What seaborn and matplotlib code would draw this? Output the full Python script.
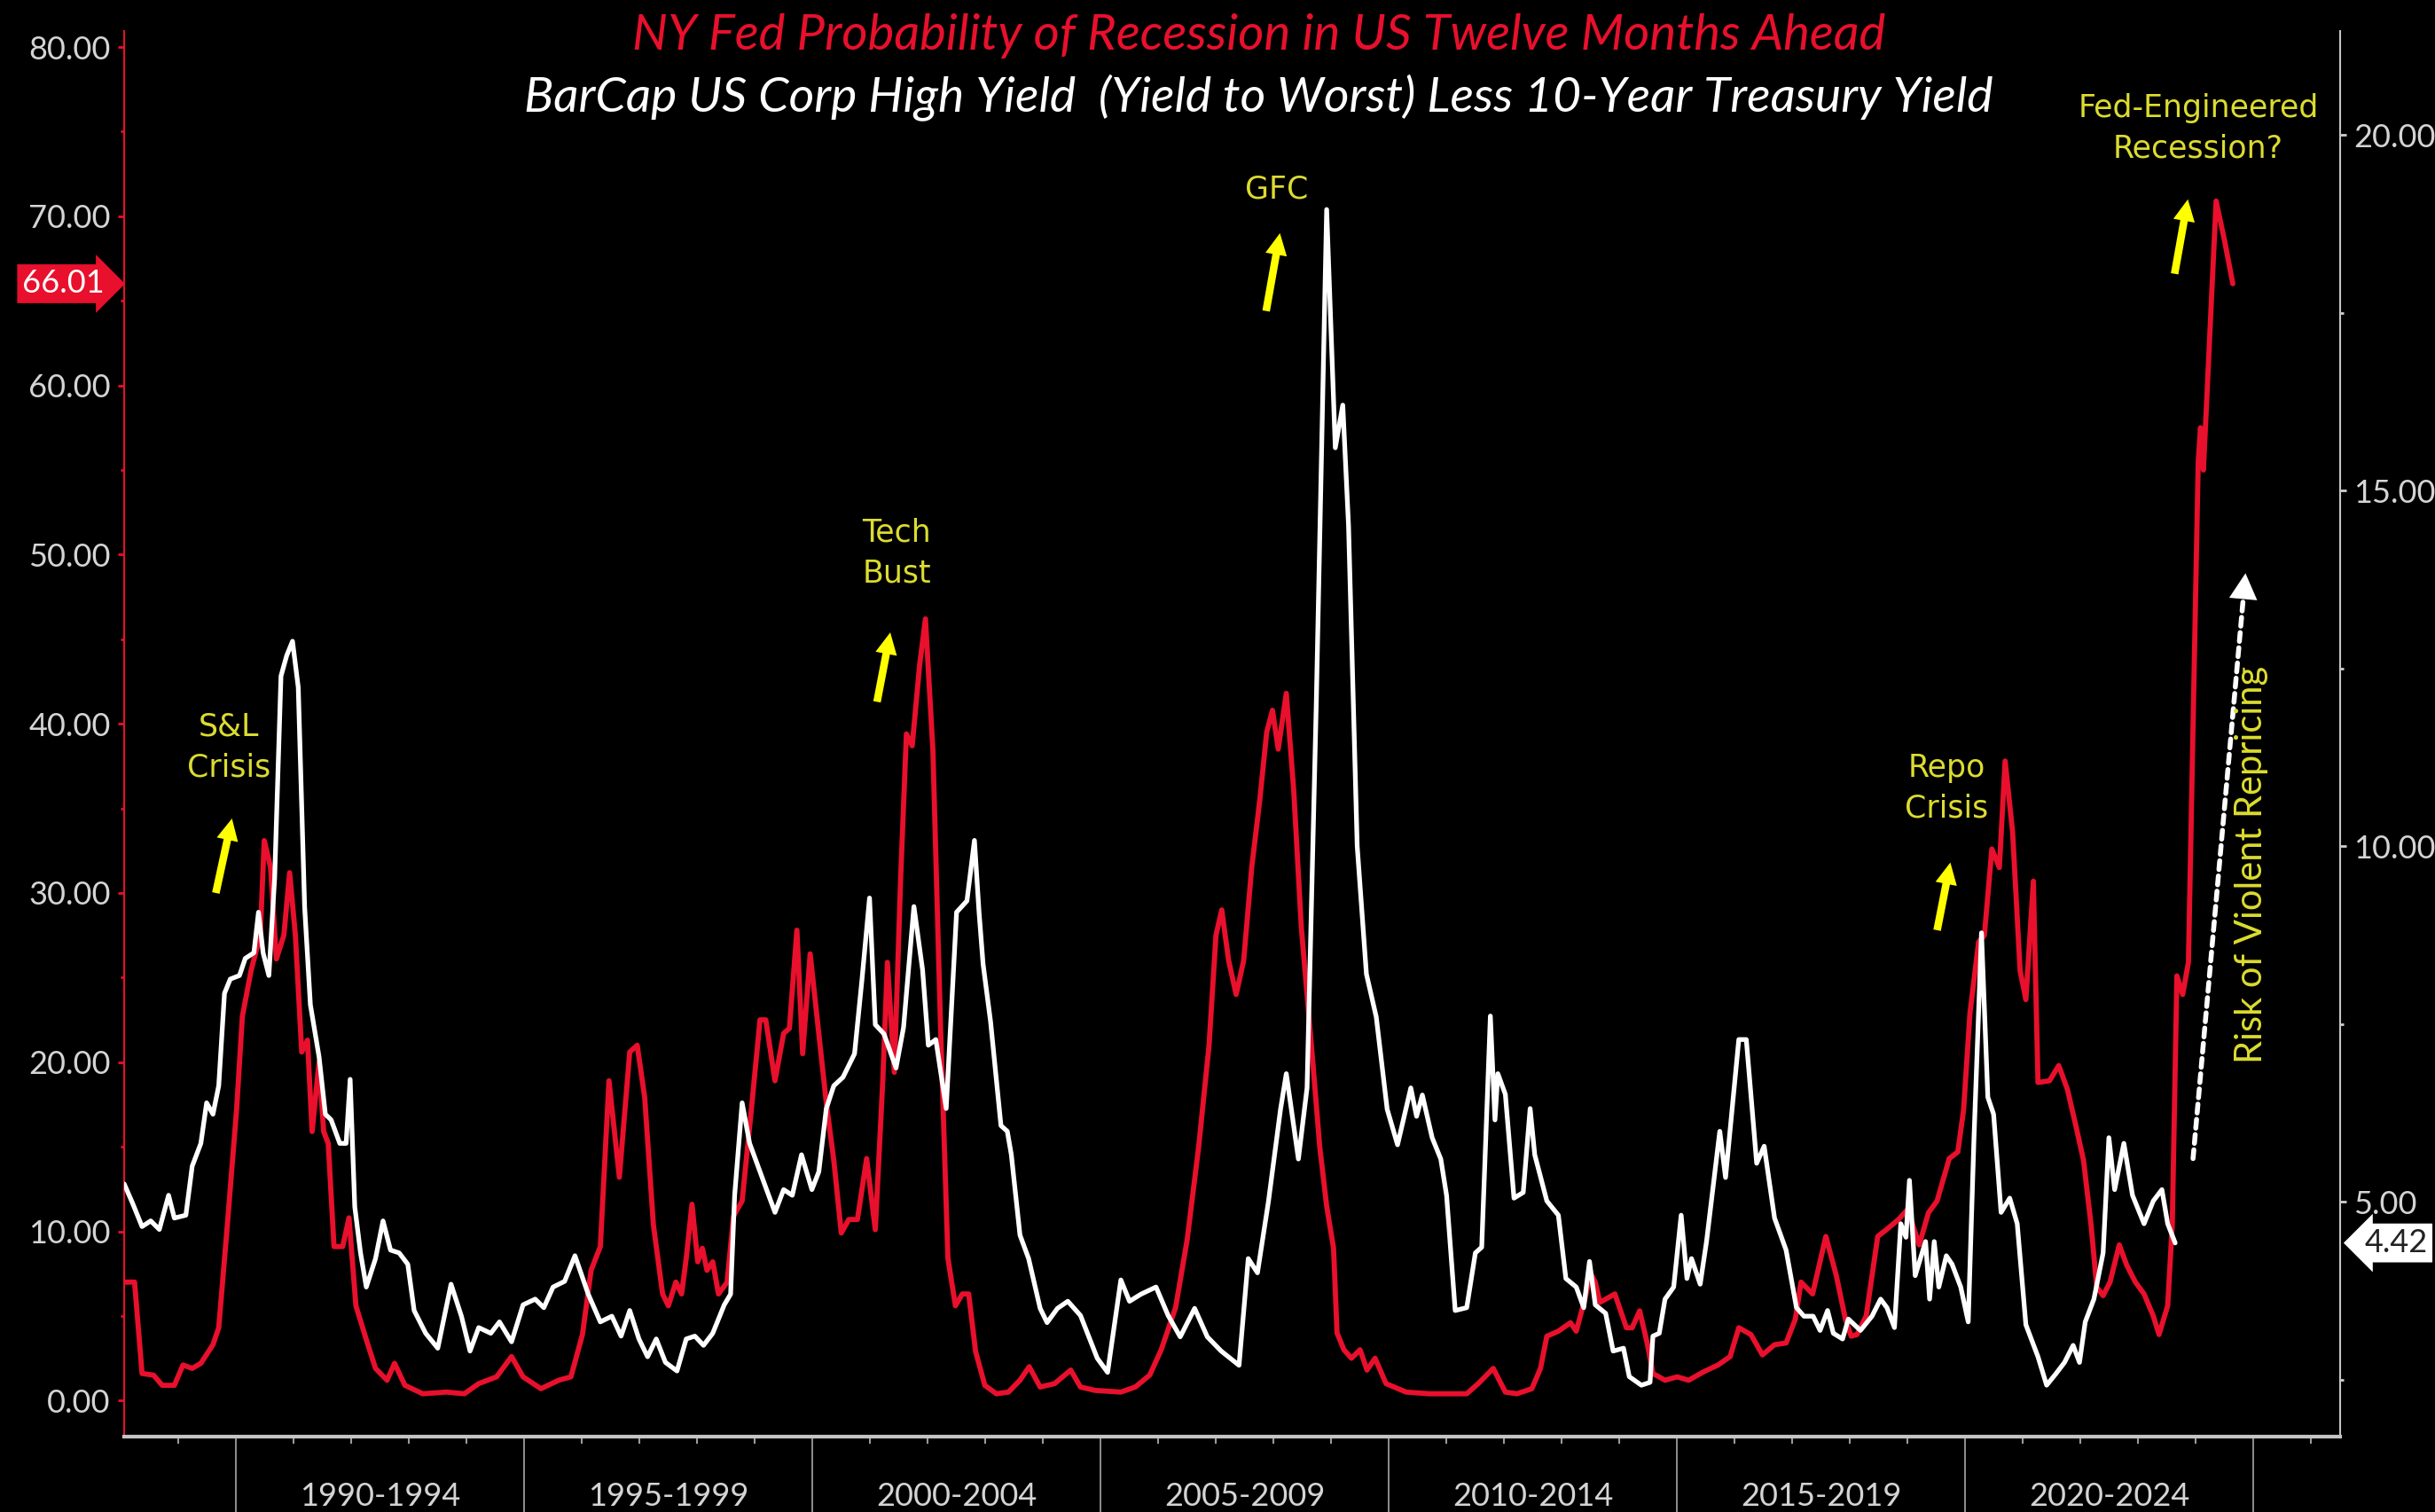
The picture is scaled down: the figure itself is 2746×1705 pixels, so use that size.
"""NY Fed recession probability vs. HY-minus-10Y spread, dark Bloomberg-style chart."""

import matplotlib

matplotlib.use("Agg")
import matplotlib.pyplot as plt  # noqa: E402
import matplotlib.transforms as mtransforms  # noqa: E402
import seaborn as sns  # noqa: E402
from matplotlib.ticker import FuncFormatter, MultipleLocator  # noqa: E402

# NY Fed probability of recession 12 months ahead (%), left axis
red_years = [
    1988.06, 1988.24, 1988.37, 1988.57, 1988.72, 1988.93, 1989.08, 1989.24, 1989.39, 1989.60,
    1989.70, 1989.85, 1990.01, 1990.11, 1990.26, 1990.42, 1990.49, 1990.60, 1990.70, 1990.83,
    1990.93, 1991.03, 1991.14, 1991.24, 1991.32, 1991.44, 1991.52, 1991.60, 1991.70, 1991.85,
    1991.96, 1992.08, 1992.26, 1992.42, 1992.62, 1992.75, 1992.93, 1993.24, 1993.65, 1993.96,
    1994.21, 1994.52, 1994.78, 1994.98, 1995.29, 1995.60, 1995.81, 1996.01, 1996.16, 1996.32,
    1996.47, 1996.65, 1996.83, 1996.96, 1997.09, 1997.24, 1997.40, 1997.50, 1997.63, 1997.73,
    1997.81, 1997.91, 1998.01, 1998.09, 1998.17, 1998.27, 1998.37, 1998.52, 1998.63, 1998.78,
    1998.94, 1999.09, 1999.19, 1999.35, 1999.50, 1999.60, 1999.73, 1999.83, 1999.96, 2000.11,
    2000.24, 2000.37, 2000.50, 2000.63, 2000.78, 2000.94, 2001.09, 2001.22, 2001.30, 2001.42,
    2001.53, 2001.63, 2001.73, 2001.86, 2001.96, 2002.09, 2002.22, 2002.35, 2002.48, 2002.60,
    2002.71, 2002.83, 2002.99, 2003.19, 2003.40, 2003.60, 2003.76, 2003.95, 2004.20, 2004.48,
    2004.65, 2004.90, 2005.35, 2005.60, 2005.85, 2006.05, 2006.30, 2006.50, 2006.70, 2006.88,
    2007.00, 2007.10, 2007.22, 2007.35, 2007.48, 2007.62, 2007.76, 2007.88, 2007.98, 2008.08,
    2008.22, 2008.35, 2008.48, 2008.58, 2008.68, 2008.80, 2008.92, 2009.04, 2009.10, 2009.22,
    2009.35, 2009.50, 2009.62, 2009.76, 2009.95, 2010.30, 2010.70, 2011.00, 2011.35, 2011.55,
    2011.81, 2012.02, 2012.22, 2012.48, 2012.63, 2012.74, 2012.94, 2013.15, 2013.25, 2013.40,
    2013.50, 2013.58, 2013.66, 2013.92, 2014.12, 2014.22, 2014.35, 2014.48, 2014.58, 2014.79,
    2015.00, 2015.20, 2015.46, 2015.71, 2015.92, 2016.07, 2016.28, 2016.48, 2016.69, 2016.89,
    2017.05, 2017.15, 2017.35, 2017.58, 2017.76, 2017.92, 2018.02, 2018.12, 2018.28, 2018.48,
    2018.63, 2018.84, 2019.00, 2019.20, 2019.36, 2019.51, 2019.72, 2019.87, 2019.97, 2020.08,
    2020.23, 2020.33, 2020.46, 2020.59, 2020.69, 2020.82, 2020.95, 2021.05, 2021.18, 2021.26,
    2021.46, 2021.62, 2021.77, 2021.92, 2022.05, 2022.18, 2022.28, 2022.39, 2022.51, 2022.67,
    2022.80, 2022.95, 2023.10, 2023.26, 2023.36, 2023.51, 2023.59, 2023.67, 2023.77, 2023.87,
    2024.04, 2024.08, 2024.13, 2024.35, 2024.50, 2024.64,
]
red_prob = [
    7.0, 7.0, 1.6, 1.5, 0.9, 0.9, 2.1, 1.9, 2.2, 3.3,
    4.3, 10.4, 17.2, 22.7, 25.4, 27.5, 33.1, 31.5, 26.1, 27.5,
    31.2, 27.5, 20.6, 21.3, 15.9, 20.0, 15.9, 15.2, 9.1, 9.1,
    10.8, 5.6, 3.6, 1.9, 1.2, 2.2, 0.9, 0.4, 0.5, 0.4,
    1.0, 1.4, 2.6, 1.4, 0.7, 1.2, 1.4, 3.9, 7.7, 9.1,
    18.9, 13.2, 20.6, 21.0, 17.9, 10.4, 6.3, 5.6, 7.0, 6.3,
    8.4, 11.6, 8.2, 9.0, 7.7, 8.2, 6.3, 7.0, 10.9, 11.8,
    17.2, 22.5, 22.5, 18.9, 21.7, 22.0, 27.8, 20.5, 26.4, 21.7,
    17.6, 14.2, 9.9, 10.7, 10.7, 14.3, 10.1, 18.9, 25.9, 19.4,
    30.9, 39.4, 38.7, 43.5, 46.2, 38.4, 22.3, 8.4, 5.6, 6.3,
    6.3, 2.9, 0.9, 0.4, 0.5, 1.2, 2.0, 0.8, 1.0, 1.8,
    0.8, 0.6, 0.5, 0.8, 1.5, 3.0, 5.5, 9.5, 15.0, 21.0,
    27.5, 29.0, 26.0, 24.0, 26.0, 31.5, 35.5, 39.5, 40.8, 38.5,
    41.8, 36.0, 28.0, 24.0, 20.0, 15.0, 11.5, 9.0, 4.0, 3.0,
    2.5, 3.0, 1.8, 2.5, 1.0, 0.5, 0.4, 0.4, 0.4, 1.0,
    1.9, 0.5, 0.4, 0.7, 1.9, 3.8, 4.1, 4.6, 4.1, 6.0,
    7.5, 7.0, 5.8, 6.3, 4.3, 4.3, 5.3, 3.4, 1.6, 1.2,
    1.4, 1.2, 1.7, 2.1, 2.6, 4.3, 3.9, 2.7, 3.3, 3.4,
    4.8, 7.0, 6.3, 9.7, 7.4, 4.8, 3.8, 3.9, 5.0, 9.7,
    10.1, 10.7, 11.3, 9.2, 11.1, 11.8, 14.3, 14.7, 17.2, 22.9,
    27.1, 27.5, 32.6, 31.5, 37.8, 33.6, 25.4, 23.7, 30.7, 18.8,
    18.9, 19.8, 18.4, 16.2, 14.2, 10.4, 6.7, 6.2, 7.0, 9.2,
    8.0, 7.0, 6.3, 5.0, 3.9, 5.6, 10.4, 25.1, 24.0, 25.9,
    55.5, 57.5, 55.0, 70.9, 68.5, 66.01,
]

# BarCap US HY yield-to-worst less 10y Treasury (%), right axis
white_years = [
    1988.06, 1988.21, 1988.37, 1988.52, 1988.67, 1988.83, 1988.93, 1989.13, 1989.24, 1989.39,
    1989.49, 1989.60, 1989.70, 1989.80, 1989.90, 1990.06, 1990.16, 1990.31, 1990.39, 1990.47,
    1990.57, 1990.67, 1990.78, 1990.88, 1990.98, 1991.08, 1991.19, 1991.29, 1991.44, 1991.55,
    1991.65, 1991.80, 1991.91, 1991.98, 1992.06, 1992.16, 1992.26, 1992.42, 1992.55, 1992.68,
    1992.83, 1992.98, 1993.09, 1993.29, 1993.50, 1993.73, 1993.91, 1994.06, 1994.21, 1994.42,
    1994.57, 1994.78, 1994.98, 1995.19, 1995.34, 1995.50, 1995.70, 1995.88, 1996.11, 1996.32,
    1996.52, 1996.68, 1996.83, 1996.99, 1997.14, 1997.29, 1997.45, 1997.65, 1997.81, 1997.96,
    1998.11, 1998.27, 1998.47, 1998.58, 1998.65, 1998.78, 1998.91, 1999.09, 1999.24, 1999.35,
    1999.50, 1999.65, 1999.81, 1999.99, 2000.11, 2000.24, 2000.37, 2000.53, 2000.73, 2000.86,
    2000.99, 2001.09, 2001.24, 2001.45, 2001.58, 2001.76, 2001.91, 2002.01, 2002.14, 2002.32,
    2002.50, 2002.68, 2002.81, 2002.89, 2002.96, 2003.09, 2003.27, 2003.38, 2003.45, 2003.60,
    2003.75, 2003.95, 2004.07, 2004.25, 2004.43, 2004.65, 2004.94, 2005.12, 2005.35, 2005.50,
    2005.70, 2005.96, 2006.17, 2006.38, 2006.63, 2006.85, 2007.09, 2007.40, 2007.56, 2007.72,
    2007.91, 2008.12, 2008.22, 2008.43, 2008.58, 2008.74, 2008.92, 2009.07, 2009.20, 2009.30,
    2009.45, 2009.61, 2009.78, 2009.97, 2010.15, 2010.38, 2010.48, 2010.58, 2010.75, 2010.90,
    2011.00, 2011.15, 2011.35, 2011.50, 2011.61, 2011.76, 2011.84, 2011.89, 2012.02, 2012.17,
    2012.33, 2012.45, 2012.53, 2012.74, 2012.94, 2013.07, 2013.25, 2013.38, 2013.48, 2013.58,
    2013.76, 2013.89, 2014.07, 2014.17, 2014.38, 2014.53, 2014.58, 2014.69, 2014.79, 2014.94,
    2015.07, 2015.17, 2015.25, 2015.40, 2015.51, 2015.74, 2015.84, 2016.07, 2016.20, 2016.38,
    2016.51, 2016.69, 2016.89, 2017.07, 2017.20, 2017.36, 2017.48, 2017.61, 2017.71, 2017.87,
    2017.97, 2018.18, 2018.38, 2018.53, 2018.64, 2018.77, 2018.88, 2018.97, 2019.03, 2019.13,
    2019.31, 2019.38, 2019.46, 2019.54, 2019.67, 2019.77, 2019.92, 2020.05, 2020.15, 2020.28,
    2020.39, 2020.49, 2020.62, 2020.77, 2020.90, 2021.05, 2021.26, 2021.41, 2021.57, 2021.72,
    2021.87, 2021.98, 2022.08, 2022.23, 2022.39, 2022.49, 2022.59, 2022.75, 2022.90, 2023.10,
    2023.26, 2023.41, 2023.51, 2023.64,
]
white_spread = [
    5.25, 4.97, 4.65, 4.73, 4.61, 5.09, 4.77, 4.81, 5.50, 5.82,
    6.39, 6.23, 6.63, 7.93, 8.13, 8.18, 8.42, 8.50, 9.07, 8.50,
    8.18, 9.55, 12.39, 12.68, 12.88, 12.23, 9.15, 7.77, 7.04, 6.23,
    6.15, 5.82, 5.82, 6.72, 4.93, 4.28, 3.80, 4.20, 4.73, 4.32,
    4.28, 4.12, 3.47, 3.15, 2.94, 3.84, 3.39, 2.90, 3.23, 3.15,
    3.31, 3.03, 3.55, 3.63, 3.51, 3.80, 3.88, 4.24, 3.70, 3.31,
    3.39, 3.11, 3.47, 3.07, 2.82, 3.07, 2.74, 2.62, 3.07, 3.11,
    2.98, 3.15, 3.55, 3.70, 5.09, 6.39, 5.82, 5.42, 5.09, 4.85,
    5.17, 5.09, 5.66, 5.17, 5.42, 6.31, 6.63, 6.75, 7.08, 8.13,
    9.27, 7.49, 7.36, 6.88, 7.45, 9.15, 8.26, 7.20, 7.28, 6.31,
    9.07, 9.23, 10.08, 9.07, 8.34, 7.53, 6.07, 5.99, 5.66, 4.53,
    4.20, 3.50, 3.30, 3.50, 3.60, 3.40, 2.80, 2.60, 3.90, 3.60,
    3.70, 3.80, 3.40, 3.10, 3.50, 3.10, 2.90, 2.70, 4.20, 4.00,
    5.00, 6.30, 6.80, 5.60, 6.60, 12.00, 18.95, 15.60, 16.20, 14.50,
    10.00, 8.20, 7.60, 6.30, 5.80, 6.60, 6.20, 6.50, 5.90, 5.60,
    5.09, 3.47, 3.51, 4.28, 4.36, 7.61, 6.15, 6.80, 6.51, 5.05,
    5.13, 6.31, 5.66, 5.01, 4.81, 3.92, 3.80, 3.51, 4.16, 3.55,
    3.43, 2.90, 2.94, 2.54, 2.42, 2.46, 3.11, 3.15, 3.63, 3.80,
    4.81, 3.92, 4.20, 3.84, 4.44, 5.99, 5.34, 7.28, 7.28, 5.54,
    5.78, 4.77, 4.32, 3.51, 3.39, 3.39, 3.19, 3.47, 3.15, 3.07,
    3.35, 3.19, 3.39, 3.63, 3.51, 3.23, 4.69, 4.50, 5.30, 3.96,
    4.44, 3.63, 4.44, 3.80, 4.24, 4.12, 3.80, 3.31, 5.90, 8.78,
    6.47, 6.23, 4.85, 5.05, 4.69, 3.27, 2.82, 2.42, 2.58, 2.74,
    2.98, 2.74, 3.31, 3.63, 4.28, 5.90, 5.17, 5.82, 5.09, 4.69,
    5.01, 5.17, 4.69, 4.42,
]

period_starts = [1990, 1995, 2000, 2005, 2010, 2015, 2020]
period_labels = ["1990-1994", "1995-1999", "2000-2004", "2005-2009",
                 "2010-2014", "2015-2019", "2020-2024"]

RED = "#e8102c"
YELLOW_TXT = "#dcdc30"
YELLOW_ARROW = "#ffff00"
GREY = "#d4d4d4"

sns.set_style("dark", rc={"axes.facecolor": "black", "figure.facecolor": "black",
                          "axes.grid": False})
plt.rcParams["font.family"] = ["Lato", "DejaVu Sans"]

fig = plt.figure(figsize=(27.46, 17.05), dpi=100)
ax = fig.add_axes([0.051, 0.050, 0.910, 0.9295])
ax2 = ax.twinx()

sns.lineplot(x=red_years, y=red_prob, ax=ax, color=RED, linewidth=4.2, estimator=None)
sns.lineplot(x=white_years, y=white_spread, ax=ax2, color="white", linewidth=3.8, estimator=None)

ax.set_xlim(1988.06, 2026.5)
ax.set_ylim(-2.12, 80.95)
ax2.set_ylim(1.70, 21.46)
ax.set(xlabel="", ylabel="")
ax2.set(xlabel="", ylabel="")

fmt = FuncFormatter(lambda v, _: f"{v:.2f}")
ax.yaxis.set_major_locator(MultipleLocator(10))
ax.yaxis.set_minor_locator(MultipleLocator(5))
ax.yaxis.set_major_formatter(fmt)
ax2.yaxis.set_major_locator(MultipleLocator(5))
ax2.yaxis.set_minor_locator(MultipleLocator(2.5))
ax2.yaxis.set_major_formatter(fmt)

ax.tick_params(axis="y", which="major", length=5, width=2, color=RED, labelsize=26,
               labelcolor=GREY, pad=6, left=True)
ax.tick_params(axis="y", which="minor", length=3, width=2, color=RED, left=True)
ax2.tick_params(axis="y", which="major", length=5, width=2, color="#cfcfcf", labelsize=26,
                labelcolor=GREY, pad=6, right=True)
ax2.tick_params(axis="y", which="minor", length=3, width=2, color="#cfcfcf", right=True)

# x axis: long separators at each 5-year block, short yearly ticks, block labels centred
ax.set_xticks(period_starts + [2025])
ax.set_xticklabels([])
ax.xaxis.set_minor_locator(MultipleLocator(1))
ax.tick_params(axis="x", which="major", length=62, width=1.3, color="#9a9a9a", bottom=True)
ax.tick_params(axis="x", which="minor", length=6, width=1.5, color="#9a9a9a", bottom=True)
xtrans = mtransforms.blended_transform_factory(ax.transData, ax.transAxes)
for start, lab in zip(period_starts, period_labels):
    ax.text(start + 2.5, -0.043, lab, transform=xtrans, ha="center", va="center",
            fontsize=26, color=GREY)

for a in (ax, ax2):
    a.spines["top"].set_visible(False)
ax.spines["right"].set_visible(False)
ax2.spines["left"].set_visible(False)
ax2.spines["bottom"].set_visible(False)
ax.spines["left"].set_color(RED)
ax.spines["left"].set_linewidth(1.5)
ax.spines["bottom"].set_color("#c4c4c4")
ax.spines["bottom"].set_linewidth(3)
ax2.spines["right"].set_color("#c4c4c4")
ax2.spines["right"].set_linewidth(1.5)

# last-value badges on each axis
ltrans = mtransforms.blended_transform_factory(ax.transAxes, ax.transData)
ax.text(-0.009, red_prob[-1], f"{red_prob[-1]:.2f}", transform=ltrans, ha="right",
        va="center", fontsize=26, color="white", clip_on=False,
        bbox=dict(boxstyle="rarrow,pad=0.15", fc=RED, ec="none"))
rtrans = mtransforms.blended_transform_factory(ax2.transAxes, ax2.transData)
ax2.text(1.011, white_spread[-1], f"{white_spread[-1]:.2f}", transform=rtrans, ha="left",
         va="center", fontsize=26, color="#222222", clip_on=False,
         bbox=dict(boxstyle="larrow,pad=0.15", fc="white", ec="none"))

# event call-outs
events = [
    ("S&L\nCrisis", 1989.87, 38.6, (1989.65, 30.0), (1989.93, 34.4)),
    ("Tech\nBust", 2001.46, 50.1, (2001.12, 41.3), (2001.35, 45.4)),
    ("GFC", 2008.06, 71.6, (2007.87, 64.4), (2008.11, 69.0)),
    ("Repo\nCrisis", 2019.68, 36.2, (2019.51, 27.8), (2019.74, 31.8)),
    ("Fed-Engineered\nRecession?", 2024.04, 75.2, (2023.63, 66.6), (2023.86, 71.0)),
]
for text, tx, ty, tail, head in events:
    ax.text(tx, ty, text, ha="center", va="center", fontsize=25, color=YELLOW_TXT,
            family="DejaVu Sans", linespacing=1.45)
    ax.annotate("", xy=head, xytext=tail,
                arrowprops=dict(arrowstyle="simple,head_width=0.8,head_length=0.8,tail_width=0.28",
                                fc=YELLOW_ARROW, ec="none", mutation_scale=22,
                                shrinkA=0, shrinkB=0))

# dashed white "repricing" arrow
ax.annotate("", xy=(2024.86, 48.9), xytext=(2023.95, 14.3),
            arrowprops=dict(arrowstyle="-", color="white", lw=4, linestyle=(0, (1.8, 1.3)),
                            shrinkA=0, shrinkB=8))
ax.annotate("", xy=(2024.86, 48.9), xytext=(2023.95, 14.3),
            arrowprops=dict(arrowstyle="-|>,head_length=0.7,head_width=0.38", color="white",
                            lw=0.01, mutation_scale=30, shrinkA=0, shrinkB=0))
ax.text(2024.96, 31.7, "Risk of Violent Repricing", rotation=90, ha="center", va="center",
        fontsize=30, color=YELLOW_TXT)

fig.text(0.517, 0.9765, "NY Fed Probability of Recession in US Twelve Months Ahead",
         ha="center", va="center", fontsize=40.5, style="italic", color=RED)
fig.text(0.517, 0.935, "BarCap US Corp High Yield  (Yield to Worst) Less 10-Year Treasury Yield",
         ha="center", va="center", fontsize=39.8, style="italic", color="white")

fig.savefig("out.png", dpi=100, facecolor="black")
